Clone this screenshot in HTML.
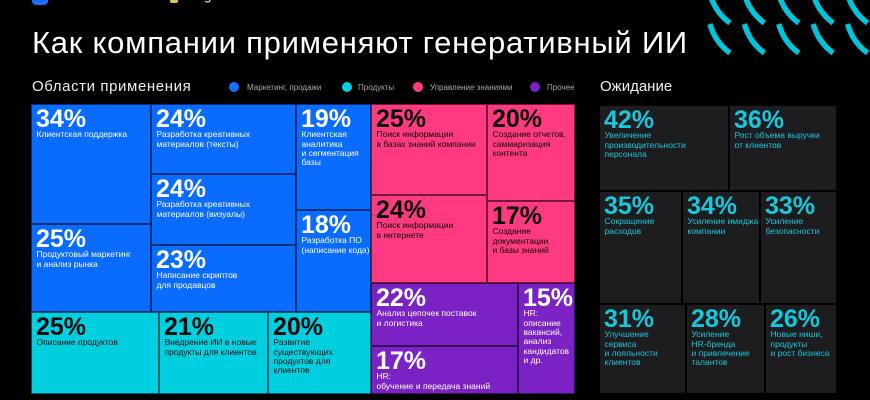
<!DOCTYPE html>
<html><head><meta charset="utf-8">
<style>
*{margin:0;padding:0;box-sizing:border-box}
html,body{width:870px;height:400px;background:#000;overflow:hidden}
body{position:relative;font-family:"Liberation Sans","Noto Sans CJK SC",sans-serif;color:#fff}
.a{position:absolute;white-space:nowrap}
.t{position:absolute;border:1px solid rgba(0,0,0,.55)}
.t .p{position:absolute;left:4px;top:1.7px;font-size:25px;line-height:25px;font-weight:bold;white-space:nowrap}
.t .l{position:absolute;left:4.5px;top:25.4px;font-size:8.5px;line-height:9.3px;white-space:nowrap}
.b{background:#0a6bff;color:#fff}
.c{background:#00cfe0;color:#0a0a0a}
.k{background:#ff3a80;color:#0a0a0a}
.v{background:#7a22c4;color:#fff}
.d{background:#1d1d1f;color:#16c8dc;border:1px solid #000}
.dot{position:absolute;width:10px;height:10px;border-radius:50%;top:82px}
.lg{position:absolute;top:82.5px;font-size:8px;line-height:10px;color:#a8a8a8;white-space:nowrap}
</style></head><body>

<div class="a" style="left:32px;top:-11px;width:16px;height:16px;border-radius:4px;background:#1a6cff"></div>
<div class="a" style="left:57px;top:-11px;font-size:13px;line-height:14px;color:#fff">VK Tech</div>
<div class="a" style="left:170px;top:-4px;width:8px;height:7px;border-radius:2px;background:#e8c24a"></div>
<div class="a" style="left:184px;top:-11px;font-size:13px;line-height:14px;color:#fff">Prognosis</div>

<svg class="a" style="left:0;top:0" width="870" height="60" viewBox="0 0 870 60">
<g fill="none" stroke="#00c4da" stroke-width="5.5">
<path d="M710,24 Q715,42 730,53"/><path d="M744.4,24 Q749.4,42 764.4,53"/><path d="M778.8,24 Q783.8,42 798.8,53"/><path d="M813.2,24 Q818.2,42 833.2,53"/><path d="M847.6,24 Q852.6,42 867.6,53"/>
<path d="M710,-6 Q715,12 730,23"/><path d="M744.4,-6 Q749.4,12 764.4,23"/><path d="M778.8,-6 Q783.8,12 798.8,23"/><path d="M813.2,-6 Q818.2,12 833.2,23"/><path d="M847.6,-6 Q852.6,12 867.6,23"/>
</g></svg>

<div class="a" style="left:32px;top:26.7px;font-size:31px;line-height:31px;letter-spacing:0.75px">Как компании применяют генеративный ИИ</div>

<div class="a" style="left:32px;top:78px;font-size:15px;line-height:18px;letter-spacing:0.6px;color:#f0f0f0">Области применения</div>
<div class="a" style="left:600px;top:78px;font-size:15px;line-height:18px;color:#f0f0f0">Ожидание</div>

<div class="dot" style="left:229px;background:#1670ff"></div><div class="lg" style="left:247px">Маркетинг, продажи</div>
<div class="dot" style="left:342px;background:#00cfe0"></div><div class="lg" style="left:358px">Продукты</div>
<div class="dot" style="left:413px;background:#ff3a80"></div><div class="lg" style="left:430px">Управление знаниями</div>
<div class="dot" style="left:530px;background:#7a22c4"></div><div class="lg" style="left:547px">Прочее</div>

<!-- blue -->
<div class="t b" style="left:31px;top:104px;width:120px;height:120px"><div class="p">34%</div><div class="l">Клиентская поддержка</div></div>
<div class="t b" style="left:31px;top:224px;width:120px;height:88px"><div class="p">25%</div><div class="l">Продуктовый маркетинг<br>и анализ рынка</div></div>
<div class="t b" style="left:151px;top:104px;width:145px;height:70px"><div class="p">24%</div><div class="l">Разработка креативных<br>материалов (тексты)</div></div>
<div class="t b" style="left:151px;top:174px;width:145px;height:71px"><div class="p">24%</div><div class="l">Разработка креативных<br>материалов (визуалы)</div></div>
<div class="t b" style="left:151px;top:245px;width:145px;height:67px"><div class="p">23%</div><div class="l">Написание скриптов<br>для продавцов</div></div>
<div class="t b" style="left:296px;top:104px;width:75px;height:106px"><div class="p">19%</div><div class="l">Клиентская<br>аналитика<br>и сегментация<br>базы</div></div>
<div class="t b" style="left:296px;top:210px;width:75px;height:102px"><div class="p">18%</div><div class="l">Разработка ПО<br>(написание кода)</div></div>

<!-- pink -->
<div class="t k" style="left:371px;top:104px;width:116px;height:91px"><div class="p">25%</div><div class="l">Поиск информации<br>в базах знаний компании</div></div>
<div class="t k" style="left:371px;top:195px;width:116px;height:88px"><div class="p">24%</div><div class="l">Поиск информации<br>в интернете</div></div>
<div class="t k" style="left:487px;top:104px;width:88px;height:97px"><div class="p">20%</div><div class="l">Создание отчетов,<br>саммаризация<br>контента</div></div>
<div class="t k" style="left:487px;top:201px;width:88px;height:82px"><div class="p">17%</div><div class="l">Создание<br>документации<br>и базы знаний</div></div>

<!-- purple -->
<div class="t v" style="left:371px;top:283px;width:147px;height:63px"><div class="p">22%</div><div class="l">Анализ цепочек поставок<br>и логистика</div></div>
<div class="t v" style="left:371px;top:346px;width:147px;height:48px"><div class="p">17%</div><div class="l">HR:<br>обучение и передача знаний</div></div>
<div class="t v" style="left:518px;top:283px;width:57px;height:111px"><div class="p">15%</div><div class="l">HR:<br>описание<br>вакансий,<br>анализ<br>кандидатов<br>и др.</div></div>

<!-- cyan -->
<div class="t c" style="left:31px;top:312px;width:128px;height:82px"><div class="p">25%</div><div class="l">Описание продуктов</div></div>
<div class="t c" style="left:159px;top:312px;width:109px;height:82px"><div class="p">21%</div><div class="l">Внедрение ИИ в новые<br>продукты для клиентов</div></div>
<div class="t c" style="left:268px;top:312px;width:103px;height:82px"><div class="p">20%</div><div class="l">Развитие<br>существующих<br>продуктов для<br>клиентов</div></div>

<!-- expectations -->
<div class="t d" style="left:599px;top:105px;width:130px;height:86px"><div class="p">42%</div><div class="l">Увеличение<br>производительности<br>персонала</div></div>
<div class="t d" style="left:729px;top:105px;width:108px;height:86px"><div class="p">36%</div><div class="l">Рост объема выручки<br>от клиентов</div></div>
<div class="t d" style="left:599px;top:191px;width:83px;height:113px"><div class="p">35%</div><div class="l">Сокращение<br>расходов</div></div>
<div class="t d" style="left:682px;top:191px;width:78px;height:113px"><div class="p">34%</div><div class="l">Усиление имиджа<br>компании</div></div>
<div class="t d" style="left:760px;top:191px;width:77px;height:113px"><div class="p">33%</div><div class="l">Усиление<br>безопасности</div></div>
<div class="t d" style="left:599px;top:304px;width:87px;height:90px"><div class="p">31%</div><div class="l">Улучшение<br>сервиса<br>и лояльности<br>клиентов</div></div>
<div class="t d" style="left:686px;top:304px;width:79px;height:90px"><div class="p">28%</div><div class="l">Усиление<br>HR-бренда<br>и привлечение<br>талантов</div></div>
<div class="t d" style="left:765px;top:304px;width:72px;height:90px"><div class="p">26%</div><div class="l">Новые ниши,<br>продукты<br>и рост бизнеса</div></div>

</body></html>
